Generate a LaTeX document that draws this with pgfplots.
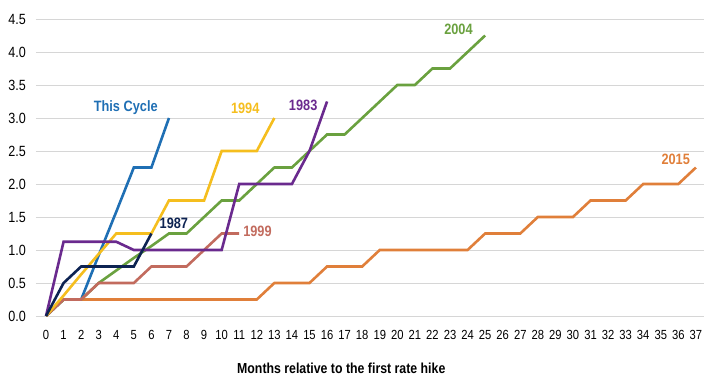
\documentclass[border=0pt]{standalone}
\usepackage{fontspec}
\setmainfont{Liberation Sans}[FakeStretch=0.85]
\usepackage{pgfplots}
\pgfplotsset{compat=1.18}
\definecolor{cBlue}{HTML}{1F6FB4}
\definecolor{cYellow}{HTML}{F5BE1E}
\definecolor{cPurple}{HTML}{6A2A8E}
\definecolor{cNavy}{HTML}{0D2352}
\definecolor{cGreen}{HTML}{6AA13F}
\definecolor{cRosy}{HTML}{C26B5E}
\definecolor{cOrange}{HTML}{E07F3A}
\definecolor{cGrid}{HTML}{D6D6D6}
\begin{document}
\begin{tikzpicture}
\useasboundingbox (0,0) rectangle (720pt,381pt);
\begin{axis}[
  at={(36pt,65pt)}, anchor=south west,
  scale only axis, width=668pt, height=297pt,
  xmin=-0.57, xmax=37.46, ymin=0, ymax=4.5,
  clip=false,
  axis line style={draw=none},
  major tick length=0pt,
  xtick={0,1,...,37},
  ytick={0,0.5,1,1.5,2,2.5,3,3.5,4,4.5},
  ymajorgrids,
  grid style={color=cGrid, line width=1pt},
  /pgf/number format/assume math mode=true,
  yticklabel style={/pgf/number format/fixed, /pgf/number format/fixed zerofill, /pgf/number format/precision=1,
    font=\fontsize{14.8}{16}\selectfont, inner sep=0pt, anchor=east, xshift=-10pt},
  xticklabel style={font=\fontsize{13.2}{14}\selectfont, inner sep=0pt, anchor=north, yshift=-14pt},
  xlabel={Months relative to the first rate hike},
  xlabel style={font=\fontsize{14.5}{16}\selectfont\bfseries, at={(axis description cs:0.457,0)}, anchor=base, yshift=-57pt},
  every axis plot/.append style={line width=2.6pt},
]
% This Cycle
\addplot[cBlue] coordinates {(0,0)(1,0.25)(2,0.25)(3,0.92)(4,1.58)(5,2.25)(6,2.25)(7,3.0)};
% 2015
\addplot[cOrange] coordinates {(0,0)(1,0.25)(2,0.25)(3,0.25)(4,0.25)(5,0.25)(6,0.25)(7,0.25)(8,0.25)(9,0.25)(10,0.25)(11,0.25)(12,0.25)(13,0.5)(14,0.5)(15,0.5)(16,0.75)(17,0.75)(18,0.75)(19,1.0)(20,1.0)(21,1.0)(22,1.0)(23,1.0)(24,1.0)(25,1.25)(26,1.25)(27,1.25)(28,1.5)(29,1.5)(30,1.5)(31,1.75)(32,1.75)(33,1.75)(34,2.0)(35,2.0)(36,2.0)(37,2.25)};
% 2004
\addplot[cGreen] coordinates {(0,0)(1,0.25)(2,0.25)(3,0.5)(4,0.69)(5,0.88)(6,1.06)(7,1.25)(8,1.25)(9,1.5)(10,1.75)(11,1.75)(12,2.0)(13,2.25)(14,2.25)(15,2.5)(16,2.75)(17,2.75)(18,3.0)(19,3.25)(20,3.5)(21,3.5)(22,3.75)(23,3.75)(24,4.0)(25,4.25)};
% 1999
\addplot[cRosy] coordinates {(0,0)(1,0.25)(2,0.25)(3,0.5)(4,0.5)(5,0.5)(6,0.75)(7,0.75)(8,0.75)(9,1.0)(10,1.25)(11,1.25)};
% 1994
\addplot[cYellow] coordinates {(0,0)(1,0.31)(2,0.63)(3,0.94)(4,1.25)(5,1.25)(6,1.25)(7,1.75)(8,1.75)(9,1.75)(10,2.5)(11,2.5)(12,2.5)(13,3.0)};
% 1983
\addplot[cPurple] coordinates {(0,0)(1,1.125)(2,1.125)(3,1.125)(4,1.125)(5,1.0)(6,1.0)(7,1.0)(8,1.0)(9,1.0)(10,1.0)(11,2.0)(12,2.0)(13,2.0)(14,2.0)(15,2.5)(16,3.25)};
% 1987
\addplot[cNavy] coordinates {(0,0)(1,0.5)(2,0.75)(3,0.75)(4,0.75)(5,0.75)(6,1.25)};
\begin{scope}[every node/.style={font=\fontsize{15}{17}\selectfont\bfseries, anchor=base, inner sep=0pt}]
\node[text=cBlue] at (axis cs:4.54,3.096) {This Cycle};
\node[text=cYellow] at (axis cs:11.34,3.071) {1994};
\node[text=cPurple] at (axis cs:14.64,3.11) {1983};
\node[text=cGreen] at (axis cs:23.48,4.268) {2004};
\node[text=cOrange] at (axis cs:35.85,2.288) {2015};
\node[text=cNavy] at (axis cs:7.28,1.329) {1987};
\node[text=cRosy] at (axis cs:12.04,1.20) {1999};
\end{scope}
\end{axis}
\end{tikzpicture}
\end{document}
